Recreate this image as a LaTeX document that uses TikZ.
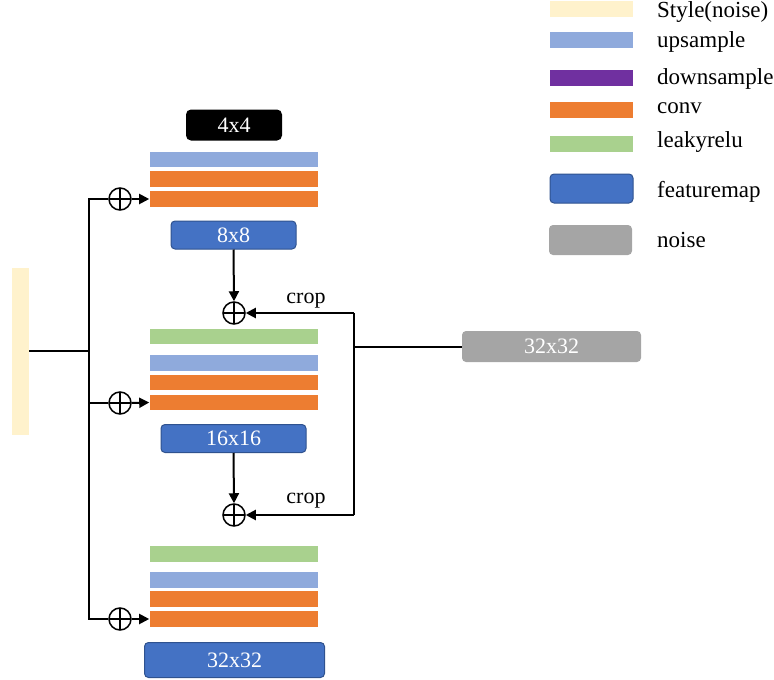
\documentclass[tikz,border=0pt]{standalone}
\usepackage{fontspec}
\setmainfont{Liberation Serif}
\newfontfamily\tnr{Liberation Serif}
\usetikzlibrary{arrows.meta}
\definecolor{cream}{HTML}{FFF2CC}
\definecolor{upc}{HTML}{8FAADC}
\definecolor{convc}{HTML}{ED7D31}
\definecolor{reluc}{HTML}{A9D18E}
\definecolor{downc}{HTML}{7030A0}
\definecolor{fmc}{HTML}{4472C4}
\definecolor{fmb}{HTML}{2F528F}
\definecolor{noisec}{HTML}{A5A5A5}
\begin{document}
\begin{tikzpicture}[x=1pt,y=-1pt,
  bar/.style={draw=white, line width=0.6pt, minimum width=169pt, minimum height=16.5pt, inner sep=0pt},
  upbar/.style={bar, fill=upc},
  convbar/.style={bar, fill=convc},
  relubar/.style={bar, fill=reluc},
  fm/.style={draw=fmb, line width=1pt, fill=fmc, rounded corners=4pt, text=white, inner sep=0pt, font=\tnr\fontsize{22}{24}\selectfont},
  noisebox/.style={fill=noisec, rounded corners=4pt, text=white, inner sep=0pt, font=\tnr\fontsize{22}{24}\selectfont},
  lgbar/.style={minimum width=83pt, minimum height=16pt, inner sep=0pt},
  lgtext/.style={anchor=base west, inner sep=0pt, font=\tnr\fontsize{23}{25}\selectfont},
  oplus/.style={circle, draw, line width=1.5pt, minimum size=22pt, inner sep=0pt,
    path picture={\draw[line width=1.5pt] (path picture bounding box.north) -- (path picture bounding box.south) (path picture bounding box.west) -- (path picture bounding box.east);}},
  conn/.style={line width=2pt},
  arr/.style={conn, -{Triangle[length=10pt,width=10pt]}},
  lbl/.style={inner sep=0pt, font=\tnr\fontsize{22}{24}\selectfont}
]
\useasboundingbox (0,0) rectangle (774,680);

% legend
\node[lgbar, fill=cream] (lg1) at (591.5,8.5) {};
\node[lgbar, fill=upc] (lg2) at (591.5,40) {};
\node[lgbar, fill=downc] (lg3) at (591.5,77.5) {};
\node[lgbar, fill=convc] (lg4) at (591.5,109.5) {};
\node[lgbar, fill=reluc] (lg5) at (591.5,143.5) {};
\node[fm, minimum width=83pt, minimum height=29pt] (lg6) at (591.5,188.5) {};
\node[noisebox, minimum width=83pt, minimum height=30pt] (lg7) at (590.5,240) {};
\node[lgtext] (lt1) at (657,17) {Style(noise)};
\node[lgtext] (lt2) at (657,47) {upsample};
\node[lgtext] (lt3) at (657,84) {downsample};
\node[lgtext] (lt4) at (657,113) {conv};
\node[lgtext] (lt5) at (657,147) {leakyrelu};
\node[lgtext] (lt6) at (657,197) {featuremap};
\node[lgtext] (lt7) at (657,247) {noise};

% style bar
\node[fill=cream, minimum width=17pt, minimum height=167pt, inner sep=0pt] (s) at (20.5,351) {};

% block 1
\node[fill=black, rounded corners=5pt, minimum width=96pt, minimum height=31pt, text=white, inner sep=0pt, font=\tnr\fontsize{22}{24}\selectfont] (f4) at (234,125) {4x4};
\node[upbar] (b1u) at (234,159.5) {};
\node[convbar] (b1c1) at (234,179) {};
\node[convbar] (b1c2) at (234,199) {};
\node[fm, minimum width=125pt, minimum height=28pt] (f8) at (233.5,235) {8x8};
\node[oplus] (p1) at (120,199) {};
\node[oplus] (q1) at (234,313) {};

% block 2
\node[relubar] (b2r) at (234,336.5) {};
\node[upbar] (b2u) at (234,363) {};
\node[convbar] (b2c1) at (234,382.5) {};
\node[convbar] (b2c2) at (234,402.5) {};
\node[fm, minimum width=145pt, minimum height=28pt] (f16) at (233.5,438.5) {16x16};
\node[oplus] (p2) at (120,403) {};
\node[oplus] (q2) at (234,515) {};

% block 3
\node[relubar] (b3r) at (234,554) {};
\node[upbar] (b3u) at (234,580) {};
\node[convbar] (b3c1) at (234,599) {};
\node[convbar] (b3c2) at (234,619) {};
\node[oplus] (p3) at (120,619) {};
\node[fm, minimum width=180pt, minimum height=35pt] (f32) at (234.5,660) {32x32};

% noise
\node[noisebox, minimum width=179pt, minimum height=31pt] (nz) at (551.5,346.5) {32x32};

% crop labels
\node[lbl] (cl1) at (306,301) {crop};
\node[lbl] (cl2) at (306,501) {crop};

% connectors
\coordinate (t1) at (89,199);
\coordinate (t3) at (89,619);
\coordinate (r1) at (354,313);
\coordinate (r2) at (354,515);
\draw[conn] (p1.west) -- (t1) -- (t3) -- (p3.west);
\draw[conn] (p2.west) -- (p2.west -| t1);
\draw[conn] (s.east) -- (s.east -| t1);
\draw[arr] (p1.east) -- (b1c2.west);
\draw[arr] (p2.east) -- (b2c2.west);
\draw[arr] (p3.east) -- (b3c2.west);
\draw[arr] (f8.south) -- (q1.north);
\draw[arr] (f16.south) -- (q2.north);
\draw[conn] (r1) -- (r2);
\draw[arr] (r1) -- (q1.east);
\draw[arr] (r2) -- (q2.east);
\draw[conn] (nz.west) -- (nz.west -| r1);
\end{tikzpicture}
\end{document}
